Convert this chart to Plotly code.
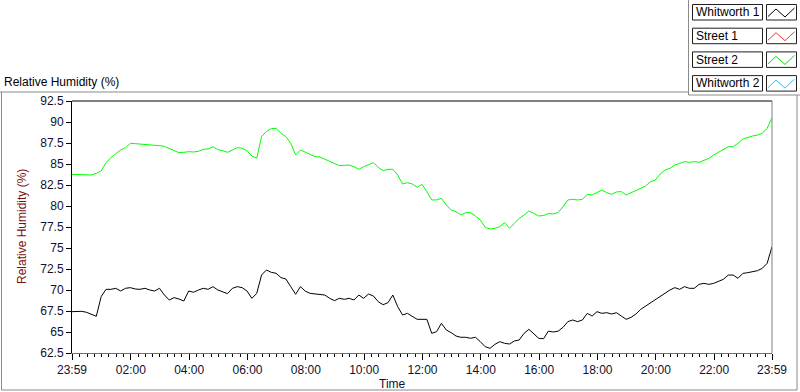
import pandas as pd
import plotly.graph_objects as go

# ---------------- data ----------------
start = pd.Timestamp("2000-01-01 23:59")
times = pd.date_range(start, periods=145, freq="10min")

street_2 = [
    83.77, 83.77, 83.77, 83.73, 83.69, 83.89, 84.17, 85.16, 85.76, 86.23,
    86.67, 86.95, 87.46, 87.42, 87.38, 87.38, 87.30, 87.22, 87.18, 87.10,
    86.87, 86.59, 86.35, 86.39, 86.47, 86.43, 86.51, 86.75, 86.79, 87.06,
    86.71, 86.59, 86.39, 86.67, 86.95, 86.87, 86.59, 85.95, 85.70, 88.26,
    88.89, 89.21, 89.25, 88.65, 88.26, 87.46, 86.07, 86.67, 86.40,
    86.07, 85.87, 85.84, 85.56, 85.28, 85.00, 84.80, 84.84, 84.88, 84.68,
    84.37, 84.68, 84.88, 85.16, 84.60, 84.21, 84.37, 84.37, 83.69, 82.62,
    82.78, 82.62, 82.22, 82.58, 81.71, 80.72, 80.72, 80.92, 80.12, 79.53,
    79.33, 78.93, 79.21, 79.21, 78.81, 78.34, 77.46, 77.26, 77.34, 77.54,
    78.02, 77.34, 77.94, 78.53, 78.93, 79.41, 79.13, 78.81, 78.87, 79.10,
    79.05, 79.21, 79.92, 80.72, 80.79, 80.72, 80.79, 81.39, 81.31, 81.59,
    81.90, 81.59, 81.39, 81.67, 81.71, 81.31, 81.59, 81.83, 82.10, 82.38,
    82.90, 83.10, 83.81, 84.29, 84.48, 84.88, 85.08, 85.28, 85.20, 85.28,
    85.20, 85.40, 85.67, 86.07, 86.39, 86.67, 87.06, 87.06, 87.46, 87.98,
    88.18, 88.33, 88.45, 88.65, 89.25, 90.50,
]

whitworth_1 = [
    67.42, 67.42, 67.46, 67.34, 67.10, 66.87, 69.21, 70.08, 70.08, 70.20,
    69.88, 70.20, 70.28, 70.12, 70.08, 70.20, 70.00, 69.88, 70.20, 69.41,
    68.81, 69.09, 68.93, 68.69, 69.88, 69.73, 70.00, 70.20, 70.08, 70.40,
    70.00, 69.80, 69.57, 70.20, 70.40, 70.28, 69.88, 69.01, 69.60, 71.79,
    72.38, 72.10, 71.99, 71.47, 71.31, 70.40, 69.49, 70.40, 69.85,
    69.60, 69.52, 69.40, 69.40, 69.01, 68.73, 69.01, 68.89, 69.01, 68.81,
    69.40, 69.01, 69.52, 69.29, 68.61, 68.25, 68.49, 69.40, 68.02, 67.02,
    67.22, 66.90, 66.51, 66.51, 66.51, 64.84, 65.04, 66.03, 65.24, 64.92,
    64.52, 64.37, 64.37, 64.25, 64.37, 63.85, 63.25, 63.06, 63.53, 63.85,
    63.65, 63.57, 63.93, 64.05, 64.84, 65.32, 64.84, 64.25, 64.20, 65.10,
    65.00, 65.10, 65.55, 66.23, 66.43, 66.23, 66.43, 67.22, 66.90, 67.42,
    67.22, 67.30, 67.14, 67.30, 66.90, 66.51, 66.74, 67.14, 67.70, 68.10,
    68.41, 68.81, 69.20, 69.68, 70.00, 70.28, 70.08, 70.40, 70.20, 70.20,
    70.67, 70.79, 70.67, 70.79, 70.99, 71.27, 71.78, 71.78, 71.39, 71.98,
    72.06, 72.18, 72.30, 72.58, 73.17, 75.16,
]

legend_names = ["Whitworth 1", "Street 1", "Street 2", "Whitworth 2"]
legend_colors = ["#000000", "#ff3030", "#00e000", "#33bbff"]

x_tick_text = ["23:59", "02:00", "04:00", "06:00", "08:00", "10:00", "12:00",
               "14:00", "16:00", "18:00", "20:00", "22:00", "23:59"]
x_tick_vals = ([start]
               + [pd.Timestamp("2000-01-02") + pd.Timedelta(hours=h) for h in range(2, 23, 2)]
               + [start + pd.Timedelta(hours=24)])

FONT = "Liberation Sans"

# ---------------- figure ----------------
W, H = 800, 392
L, R, T, B = 72, 772, 101, 353


def px(x):
    return (x - L) / (R - L)


def py(y):
    return (B - y) / (B - T)


fig = go.Figure()
fig.add_trace(go.Scatter(x=times, y=street_2, mode="lines", name="Street 2",
                         line=dict(color="#00ff00", width=1), showlegend=False))
fig.add_trace(go.Scatter(x=times, y=whitworth_1, mode="lines", name="Whitworth 1",
                         line=dict(color="#000000", width=1), showlegend=False))

fig.update_layout(
    width=W, height=H,
    margin=dict(l=L, r=W - R, t=T, b=H - B, autoexpand=False),
    paper_bgcolor="white", plot_bgcolor="white",
    font=dict(family=FONT, size=12, color="#000000"),
    showlegend=False,
)

fig.update_xaxes(
    type="date", range=[start, start + pd.Timedelta(hours=24)],
    tickmode="array", tickvals=x_tick_vals, ticktext=x_tick_text,
    ticks="outside", ticklen=6, tickcolor="#000000", tickwidth=1,
    minor=dict(ticks="outside", ticklen=3, tickcolor="#000000", dtick=15 * 60 * 1000,
               tick0="2000-01-02 02:00", showgrid=False),
    showgrid=False, zeroline=False,
    showline=True, linecolor="#707070", linewidth=1,
    tickfont=dict(family=FONT, size=12, color="#101030"),
)
fig.update_yaxes(
    range=[62.5, 92.5], tick0=62.5, dtick=2.5,
    ticks="outside", ticklen=5, tickcolor="#000000",
    showgrid=False, zeroline=False,
    showline=True, linecolor="#000000", linewidth=1,
    tickfont=dict(family=FONT, size=12, color="#101030"),
)

shapes = []
# plot area top and right borders
shapes.append(dict(type="line", xref="paper", yref="paper", x0=0, x1=1, y0=1, y1=1,
                   line=dict(color="#000000", width=1)))
shapes.append(dict(type="line", xref="paper", yref="paper", x0=1, x1=1, y0=0, y1=1,
                   line=dict(color="#808080", width=1)))
# outer frame
gray = dict(color="#8a8a8a", width=1)
shapes.append(dict(type="line", xref="paper", yref="paper", x0=px(0), x1=px(688), y0=py(92), y1=py(92), line=gray))
shapes.append(dict(type="line", xref="paper", yref="paper", x0=px(1.5), x1=px(1.5), y0=py(92), y1=py(390), line=gray))
shapes.append(dict(type="line", xref="paper", yref="paper", x0=px(1.5), x1=px(797), y0=py(390), y1=py(390), line=gray))
shapes.append(dict(type="line", xref="paper", yref="paper", x0=px(797), x1=px(797), y0=py(95), y1=py(390), line=gray))
# legend frame
shapes.append(dict(type="line", xref="paper", yref="paper", x0=px(688.5), x1=px(688.5), y0=py(0), y1=py(95), line=gray))
shapes.append(dict(type="line", xref="paper", yref="paper", x0=px(688.5), x1=px(800), y0=py(95), y1=py(95), line=gray))

annotations = []
for i, (name, col) in enumerate(zip(legend_names, legend_colors)):
    top = 4.5 + 23.7 * i
    bot = top + 15.5
    shapes.append(dict(type="rect", xref="paper", yref="paper",
                       x0=px(692.5), x1=px(762.5), y0=py(bot), y1=py(top),
                       line=dict(color="#202020", width=1), fillcolor="white"))
    shapes.append(dict(type="rect", xref="paper", yref="paper",
                       x0=px(766.5), x1=px(796.5), y0=py(bot), y1=py(top),
                       line=dict(color="#202020", width=1), fillcolor="white"))
    pts = [(768, top + 12), (776, top + 4.5), (785, top + 12.5), (794.5, top + 3.5)]
    path = "M " + " L ".join(f"{px(a):.5f},{py(b):.5f}" for a, b in pts)
    shapes.append(dict(type="path", xref="paper", yref="paper", path=path,
                       line=dict(color=col, width=1)))
    annotations.append(dict(text=name, xref="paper", yref="paper",
                            x=px(694), y=py((top + bot) / 2), xanchor="left", yanchor="middle",
                            showarrow=False, font=dict(family=FONT, size=12, color="#000000")))

annotations.append(dict(text="Relative Humidity (%)", xref="paper", yref="paper",
                        x=px(2), y=py(82), xanchor="left", yanchor="middle", showarrow=False,
                        font=dict(family=FONT, size=12, color="#000000")))
annotations.append(dict(text="Relative Humidity (%)", xref="paper", yref="paper",
                        x=px(22), y=0.5, xanchor="center", yanchor="middle", textangle=-90,
                        showarrow=False, font=dict(family=FONT, size=12, color="#7a1010")))
annotations.append(dict(text="Time", xref="paper", yref="paper",
                        x=px(392), y=py(384), xanchor="center", yanchor="middle", showarrow=False,
                        font=dict(family=FONT, size=12, color="#101030")))

fig.update_layout(shapes=shapes, annotations=annotations)
fig.write_html("out.html", config={"displayModeBar": False},
               post_script="document.body.style.margin='0px';")
